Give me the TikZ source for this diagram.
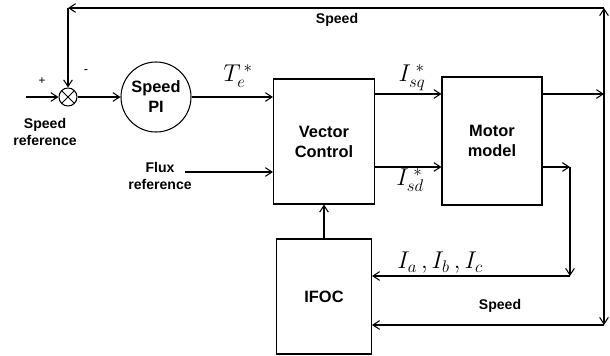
\documentclass[tikz,border=0pt]{standalone}
\usepackage{fontspec}
\setmainfont{Liberation Sans}
\usepackage{tikz}
\usetikzlibrary{arrows.meta, positioning}

\begin{document}
\begin{tikzpicture}[x=0.3mm, y=-0.3mm, >={Straight Barb[length=2mm, width=2.6mm]}, line width=0.9pt,
  font=\fontsize{14}{17}\selectfont\bfseries,
  blk/.style={draw, align=center, inner sep=0pt},
  lbl/.style={font=\fontsize{12}{14.5}\selectfont\bfseries, align=center},
  sig/.style={font=\fontsize{21}{22}\selectfont, inner sep=0pt}]
\useasboundingbox (0,0) rectangle (610,356);
\node[draw, circle, minimum size=5.4mm, inner sep=0pt,
  path picture={\draw (path picture bounding box.north west) -- (path picture bounding box.south east)
                      (path picture bounding box.north east) -- (path picture bounding box.south west);}] (sum) at (68,97) {};
\node[draw, circle, minimum size=21mm, align=center, inner sep=0pt] (pi) at (156,97) {Speed\\PI};
\node[blk, minimum width=30.3mm, minimum height=37.5mm] (vc) at (324,141.5) {Vector\\Control};
\node[blk, minimum width=30mm, minimum height=38.4mm] (mm) at (492,141) {Motor\\model};
\node[blk, minimum width=28.5mm, minimum height=34.5mm] (ifoc) at (324,296.5) {IFOC};

\coordinate (in) at (26,97);
\coordinate (flux) at (185,172);
\coordinate (tl) at (68,8);
\coordinate (tr) at (604,8);
\coordinate (jw) at (604,94);
\coordinate (br) at (604,325);
\coordinate (ja) at (570,167);
\coordinate (ba) at (570,276);

\draw[->] (in) -- (sum);
\draw[->] (sum) -- (pi);
\draw[->] (pi) -- (pi -| vc.west);
\draw[->] (flux) -- (flux -| vc.west);
\draw[->] (vc.east |- jw) -- (mm.west |- jw);
\draw[->] (vc.east |- ja) -- (mm.west |- ja);
\draw[->] (mm.east |- jw) -- (jw);
\draw[->] (jw) -- (tr);
\draw[->] (tr) -- (tl);
\draw[->] (tl) -- (sum);
\draw[->] (jw) -- (br);
\draw[->] (br) -- (br -| ifoc.east);
\draw[->] (mm.east |- ja) -- (ja);
\draw[->] (ja) -- (ba);
\draw[->] (ba) -- (ba -| ifoc.east);
\draw[->] (ifoc) -- (vc);

\node[font=\fontsize{10}{12}\selectfont\mdseries] (plus) at (42,81) {+};
\node[font=\fontsize{11}{12}\selectfont\mdseries] (minus) at (86,72) {-};
\node[lbl] (spref) at (45,132) {Speed\\reference};
\node[lbl] (fluxref) at (160,176) {Flux\\reference};
\node[lbl] (spdtop) at (337,20) {Speed};
\node[lbl] (spdbot) at (500,306) {Speed};
\node[sig] (te) at (238,76) {$T_e^{\,*}$};
\node[sig] (isq) at (412,78) {$I_{sq}^{\;*}$};
\node[sig] (isd) at (410,180) {$I_{sd}^{\;*}$};
\node[sig] (iabc) at (440,263) {$I_a\,, I_b\,, I_c$};
\end{tikzpicture}
\end{document}
